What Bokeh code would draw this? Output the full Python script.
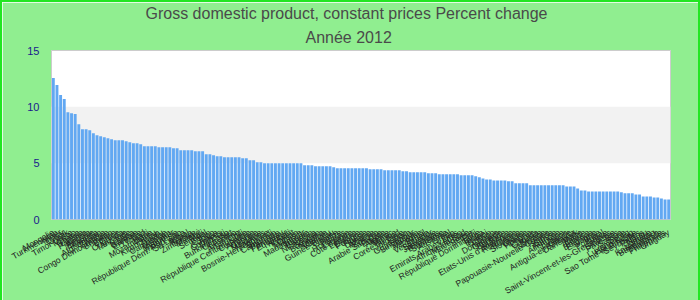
from bokeh.plotting import figure
from bokeh.models import FixedTicker, BoxAnnotation, Title, FactorRange, ColumnDataSource
from bokeh.embed import file_html
from bokeh.resources import INLINE

countries = [
    "Mongolie", "Turkménistan", "Niger", "Qatar", "Irak", "Timor-Leste", "Macao", "Ghana", "Libéria", "Panama",
    "Angola", "Éthiopie", "Rwanda", "Afghanistan", "Zambie", "Congo Démocratique", "Bhoutan", "Bolivie", "Chine", "Ouganda",
    "Tanzanie", "Inde", "Nigéria", "Gambie", "Érythrée", "Tchad", "Haïti", "Mozambique", "Pérou", "Kirghizistan",
    "Tuvalu", "Cambodge", "Vietnam", "Myanmar", "Indonésie", "République Dém. Pop. Lao", "Sri Lanka", "Népal", "Kenya", "Zimbabwe",
    "Malawi", "Mali", "Sénégal", "Bénin", "Togo", "Guyana", "Comores", "Djibouti", "Burkina Faso", "Cap-Vert",
    "Lesotho", "Argentine", "Chili", "République Centrafricaine", "Colombie", "Arménie", "Géorgie", "Moldavie", "Maldives", "Bosnie-Herzégovine",
    "Burundi", "Cameroun", "Pakistan", "Paraguay", "Équateur", "Kiribati", "Koweït", "Oman", "Malaisie", "Madagascar",
    "Turquie", "Bahreïn", "Nicaragua", "Soudan", "Botswana", "Namibie", "Vanuatu", "Guinée-Bissau", "Guinée", "Belize",
    "Honduras", "Lituanie", "Côte d'Ivoire", "Lettonie", "Estonie", "Pologne", "Russie", "Ukraine", "Albanie", "Kosovo",
    "Arabie Saoudite", "Égypte", "Algérie", "Maroc", "Tunisie", "Corée du Sud", "Jordanie", "Liban", "Guatemala", "Singapour",
    "Taïwan", "Mexique", "Brésil", "Venezuela", "Salvador", "Jamaïque", "Bahamas", "Suriname", "Australie", "Israël",
    "Iran", "Emirats Arabes Unis", "Yémen", "Afrique du Sud", "Macédoine", "Serbie", "Fidji", "République Dominicaine", "Tonga", "Brunei",
    "Gabon", "Congo", "Dominique", "Grenade", "Barbade", "Maurice", "Etats-Unis d'Amérique", "Roumanie", "Bulgarie", "Slovaquie",
    "Croatie", "Hongrie", "Chypre", "Canada", "Suède", "Norvège", "Papouasie-Nouvelle-Guinée", "Islande", "Suisse", "Autriche",
    "Allemagne", "Japon", "Finlande", "Antigua-et-Barbuda", "Danemark", "Malte", "Irlande", "France", "Belgique", "Espagne",
    "Italie", "Portugal", "Grèce", "Saint-Vincent-et-les-Grenadines", "Slovénie", "Pays-Bas", "Samoa", "Syrie", "Luxembourg", "Hong Kong",
    "Sao Tomé-et-Principe", "Seychelles", "Palaos", "Nauru", "Somalie", "Kazakhstan", "Bangladesh", "Thaïlande", "Philippines", "Uruguay",
]

growth = [
    12.56, 11.94, 11.05, 10.69, 9.53, 9.44, 9.36, 8.46, 8.02, 8.02,
    7.93, 7.66, 7.48, 7.40, 7.31, 7.22, 7.13, 7.04, 7.04, 7.04,
    6.95, 6.86, 6.77, 6.77, 6.68, 6.50, 6.50, 6.50, 6.50, 6.42,
    6.42, 6.42, 6.42, 6.33, 6.33, 6.15, 6.15, 6.15, 6.15, 6.06,
    6.06, 6.06, 5.79, 5.79, 5.70, 5.61, 5.61, 5.52, 5.52, 5.52,
    5.52, 5.52, 5.44, 5.44, 5.26, 5.26, 5.08, 5.08, 4.99, 4.99,
    4.99, 4.99, 4.99, 4.99, 4.99, 4.99, 4.99, 4.99, 4.99, 4.81,
    4.81, 4.81, 4.72, 4.72, 4.72, 4.72, 4.72, 4.63, 4.54, 4.54,
    4.54, 4.54, 4.54, 4.54, 4.54, 4.54, 4.54, 4.46, 4.46, 4.46,
    4.46, 4.37, 4.37, 4.37, 4.37, 4.37, 4.28, 4.28, 4.19, 4.19,
    4.19, 4.19, 4.19, 4.10, 4.10, 4.10, 4.01, 4.01, 4.01, 4.01,
    4.01, 4.01, 3.92, 3.92, 3.92, 3.92, 3.83, 3.74, 3.65, 3.56,
    3.56, 3.47, 3.47, 3.47, 3.47, 3.39, 3.39, 3.21, 3.21, 3.21,
    3.21, 3.03, 3.03, 3.03, 3.03, 3.03, 3.03, 3.03, 3.03, 3.03,
    3.03, 2.94, 2.94, 2.94, 2.76, 2.58, 2.58, 2.49, 2.49, 2.49,
    2.49, 2.49, 2.49, 2.49, 2.49, 2.49, 2.41, 2.32, 2.32, 2.32,
    2.23, 2.23, 2.05, 2.05, 2.05, 1.96, 1.96, 1.87, 1.78, 1.78,
]

y_ticks = [0, 5, 10, 15]
band_low, band_high = 5, 10

title_main = "Gross domestic product, constant prices  Percent change"
title_sub = "Année 2012"

SANS = "Liberation Sans"

src = ColumnDataSource(data=dict(country=countries, growth=growth))

p = figure(
    x_range=FactorRange(*countries), y_range=(y_ticks[0], y_ticks[-1]),
    frame_width=619, frame_height=169, output_backend="svg", toolbar_location=None,
    title=None, min_border_left=49, min_border_right=28, min_border_top=0, min_border_bottom=0,
)
p.styles = {"border": "2px solid #22e622"}
p.border_fill_color = "#90EE90"
p.background_fill_color = "white"
p.outline_line_color = "#cccccc"

p.add_layout(Title(text=title_sub, align="left", offset=254, text_font=SANS, text_font_size="16px",
                   text_color="#4a4a4a", text_font_style="normal", text_line_height=0.85,
                   standoff=10), "above")
p.add_layout(Title(text=title_main, align="left", offset=94, text_font=SANS, text_font_size="16px",
                   text_color="#4a4a4a", text_font_style="normal", text_line_height=0.85,
                   standoff=0), "above")

p.add_layout(BoxAnnotation(bottom=band_low, top=band_high, fill_color="#f2f2f2", fill_alpha=1.0,
                           line_color=None, level="underlay"))

p.vbar(x="country", top="growth", width=0.8, source=src, fill_color="#62a8f2", line_color=None)

p.xgrid.visible = False
p.ygrid.visible = False

p.yaxis.ticker = FixedTicker(ticks=y_ticks)
p.yaxis.axis_line_color = None
p.yaxis.major_tick_line_color = None
p.yaxis.minor_tick_line_color = None
p.yaxis.major_label_text_color = "#1a1a8c"
p.yaxis.major_label_text_font = SANS
p.yaxis.major_label_text_font_size = "11px"
p.yaxis.major_label_standoff = 6

p.xaxis.axis_line_color = None
p.xaxis.major_tick_line_color = None
p.xaxis.major_label_orientation = 0.52
p.xaxis.major_label_text_font = SANS
p.xaxis.major_label_text_font_size = "8.5px"
p.xaxis.major_label_text_color = "#222222"
p.xaxis.major_label_standoff = 6

open("out.html", "w").write(file_html(p, INLINE))
